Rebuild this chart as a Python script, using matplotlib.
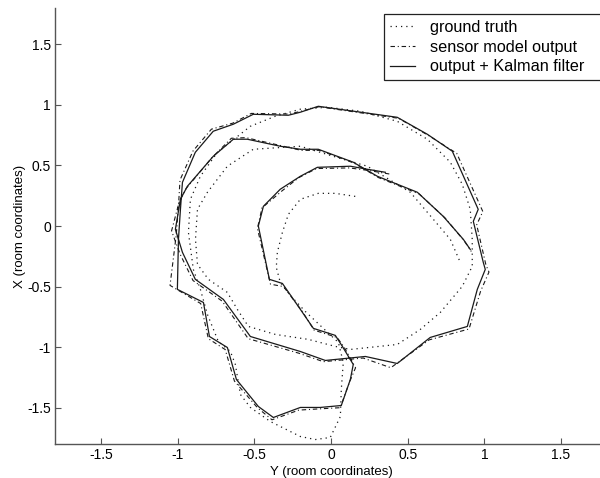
import matplotlib
matplotlib.use("Agg")
import matplotlib.pyplot as plt

# ground truth (dotted), room coordinates: Y across, X up
gt_y = [0.158, 0.028, -0.083, -0.200, -0.278, -0.317, -0.350, -0.357, -0.331, -0.265,
        -0.168, -0.057, 0.048, 0.080, 0.067, 0.061, -0.005, -0.102, -0.200, -0.396,
        -0.526, -0.591, -0.624, -0.656, -0.735, -0.806, -0.852, -0.898, -0.930, -0.917,
        -0.852, -0.741, -0.526, -0.363, -0.200, -0.024, 0.191, 0.432, 0.628, 0.778,
        0.856, 0.908, 0.921, 0.921, 0.856, 0.713, 0.582, 0.432, 0.126, 0.028,
        -0.148, -0.363, -0.539, -0.611, -0.676, -0.800, -0.871, -0.884, -0.871, -0.806,
        -0.676, -0.507, -0.200, 0.015, 0.237, 0.517, 0.667, 0.778, 0.843]
gt_x = [0.245, 0.270, 0.270, 0.221, 0.097, -0.052, -0.217, -0.341, -0.465, -0.573,
        -0.705, -0.837, -0.961, -1.126, -1.350, -1.573, -1.746, -1.763, -1.738, -1.614,
        -1.498, -1.391, -1.143, -1.036, -0.953, -0.730, -0.523, -0.358, -0.052, 0.221,
        0.411, 0.609, 0.824, 0.907, 0.965, 0.981, 0.948, 0.865, 0.717, 0.527,
        0.345, 0.138, -0.110, -0.333, -0.498, -0.713, -0.854, -0.978, -1.019, -0.994,
        -0.936, -0.895, -0.829, -0.688, -0.548, -0.440, -0.316, -0.110, 0.138, 0.279,
        0.494, 0.634, 0.659, 0.576, 0.494, 0.279, 0.056, -0.110, -0.300]

# output + Kalman filter (solid)
kf_y = [0.354, 0.237, 0.126, -0.089, -0.200, -0.331, -0.441, -0.474, -0.402, -0.317,
        -0.200, -0.115, 0.028, 0.074, 0.145, 0.126, 0.067, -0.070, -0.200, -0.376,
        -0.474, -0.617, -0.676, -0.793, -0.832, -1.002, -0.995, -0.982, -0.969, -0.885,
        -0.768, -0.637, -0.507, -0.278, -0.200, -0.083, 0.432, 0.628, 0.791, 0.960,
        0.928, 0.993, 1.006, 0.954, 0.889, 0.647, 0.432, 0.224, -0.037, -0.200,
        -0.526, -0.702, -0.885, -0.969, -1.015, -0.982, -0.937, -0.768, -0.637, -0.546,
        -0.331, -0.200, -0.083, 0.145, 0.302, 0.563, 0.732, 0.863, 0.908]
kf_x = [0.444, 0.469, 0.494, 0.485, 0.411, 0.304, 0.163, 0.000, -0.440, -0.474,
        -0.688, -0.845, -0.903, -0.994, -1.143, -1.267, -1.482, -1.498, -1.498, -1.581,
        -1.490, -1.267, -1.003, -0.912, -0.631, -0.523, -0.110, 0.138, 0.361, 0.609,
        0.783, 0.841, 0.923, 0.915, 0.940, 0.989, 0.898, 0.758, 0.618, 0.138,
        0.039, -0.300, -0.358, -0.523, -0.829, -0.920, -1.135, -1.077, -1.110, -1.036,
        -0.912, -0.606, -0.440, -0.217, -0.027, 0.221, 0.328, 0.576, 0.717, 0.717,
        0.659, 0.634, 0.634, 0.527, 0.411, 0.279, 0.080, -0.110, -0.193]

# sensor model output (dash-dot), raw measurements before filtering
sm_y = [0.380, 0.240, 0.120, -0.095, -0.210, -0.320, -0.450, -0.480, -0.395, -0.310,
        -0.190, -0.110, 0.040, 0.090, 0.160, 0.120, 0.060, -0.080, -0.210, -0.385,
        -0.480, -0.630, -0.690, -0.800, -0.850, -1.050, -1.010, -0.995, -0.985, -0.900,
        -0.780, -0.640, -0.520, -0.270, -0.190, -0.080, 0.440, 0.640, 0.820, 0.990,
        0.950, 1.010, 1.030, 0.975, 0.900, 0.640, 0.390, 0.210, -0.050, -0.210,
        -0.540, -0.710, -0.900, -0.985, -1.040, -0.990, -0.945, -0.780, -0.650, -0.555,
        -0.330, -0.195, -0.075, 0.150, 0.310, 0.575, 0.745, 0.870, 0.915]
sm_x = [0.430, 0.460, 0.480, 0.475, 0.400, 0.290, 0.150, -0.020, -0.480, -0.500,
        -0.700, -0.860, -0.920, -1.010, -1.170, -1.290, -1.500, -1.510, -1.520, -1.600,
        -1.500, -1.280, -1.020, -0.930, -0.640, -0.490, -0.080, 0.160, 0.380, 0.620,
        0.800, 0.850, 0.930, 0.925, 0.950, 0.985, 0.890, 0.745, 0.600, 0.120,
        0.010, -0.320, -0.380, -0.540, -0.850, -0.940, -1.170, -1.090, -1.120, -1.050,
        -0.930, -0.620, -0.450, -0.230, -0.040, 0.200, 0.310, 0.560, 0.725, 0.730,
        0.665, 0.625, 0.625, 0.520, 0.400, 0.265, 0.065, -0.125, -0.210]

ticks = [-1.5, -1, -0.5, 0, 0.5, 1, 1.5]
tick_labels = ["-1.5", "-1", "-0.5", "0", "0.5", "1", "1.5"]

plt.rcParams["font.family"] = ["Liberation Sans", "DejaVu Sans"]

fig = plt.figure(figsize=(6.0, 4.78), dpi=100)
ax = fig.add_axes([0.0917, 0.0711, 0.92, 0.912])

ink = "#1a1a1a"
ax.plot(gt_y, gt_x, ls=(0, (1, 3.2)), color=ink, lw=0.9, label="ground truth")
ax.plot(sm_y, sm_x, ls=(0, (4, 2.5, 1, 2.5)), color=ink, lw=0.8, label="sensor model output")
ax.plot(kf_y, kf_x, ls="-", color=ink, lw=0.9, label="output + Kalman filter")

ax.set_xlim(-1.8, 1.8)
ax.set_ylim(-1.8, 1.8)
ax.set_xticks(ticks)
ax.set_xticklabels(tick_labels)
ax.set_yticks(ticks)
ax.set_yticklabels(tick_labels)
ax.tick_params(direction="in", length=4, width=0.8, color="#555555", labelsize=10, pad=3)
for s in ("top", "right"):
    ax.spines[s].set_visible(False)
for s in ("left", "bottom"):
    ax.spines[s].set_color("#555555")
    ax.spines[s].set_linewidth(1.0)

ax.set_xlabel("Y (room coordinates)", fontsize=9.5, labelpad=3)
ax.set_ylabel("X (room coordinates)", fontsize=9.5, labelpad=1)

# legend box: x 384..605 px, top at 14 px
leg = fig.legend(loc="upper left", bbox_to_anchor=(0.64, 0.0, 0.368, 0.971), mode="expand",
                 fontsize=11.7, frameon=True, fancybox=False, framealpha=1,
                 edgecolor="#222222", handlelength=1.55, handletextpad=0.9,
                 borderpad=0.36, labelspacing=0.3, borderaxespad=0)
leg.get_frame().set_linewidth(0.9)

fig.savefig("out.png", dpi=100)
